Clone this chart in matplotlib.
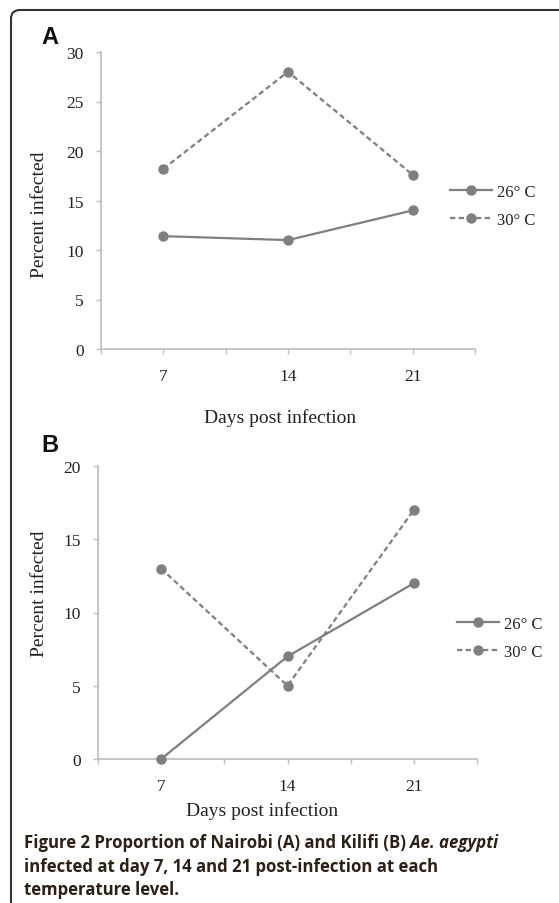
import numpy as np
import matplotlib
matplotlib.use("Agg")
import matplotlib.pyplot as plt
from matplotlib.patches import FancyBboxPatch
from matplotlib.lines import Line2D

# ---------------- data ----------------
days = ["7", "14", "21"]
series_labels = ["26° C", "30° C"]
nairobi_26 = [11.4, 11.0, 14.0]
nairobi_30 = [18.2, 28.0, 17.6]
kilifi_26 = [0.0, 7.0, 12.0]
kilifi_30 = [13.0, 5.0, 17.0]
yticks_a = [0, 5, 10, 15, 20, 25, 30]
yticks_b = [0, 5, 10, 15, 20]
xlabel = "Days post infection"
ylabel = "Percent infected"
caption_bold = "Figure 2 Proportion of Nairobi (A) and Kilifi (B) "
caption_ital = "Ae. aegypti"
caption_l2 = "infected at day 7, 14 and 21 post-infection at each"
caption_l3 = "temperature level."

W, H = 559, 904
fig = plt.figure(figsize=(W / 100, H / 100), dpi=100)

def fx(px):
    return px / W

def fy(py):
    return 1 - py / H

LINE_C = "#7f7f7f"
SPINE_C = "#c0c0c0"
TXT_C = "#222222"
SERIF = ["Liberation Serif", "DejaVu Serif"]
DASH = (2.4, 1.5)

# border (rounded rectangle, extends off right/bottom)
border = FancyBboxPatch((0.11, -1.0), 8.0, 9.04 - 0.11 + 1.0,
                        boxstyle="round,pad=0,rounding_size=0.09",
                        transform=fig.dpi_scale_trans, fill=False,
                        edgecolor="#333333", linewidth=1.5)
fig.patches.append(border)


def make_panel(rect, s26, s30, ymax, yticks):
    ax = fig.add_axes(rect)
    ax.plot(days, s26, color=LINE_C, lw=1.6, marker="o", ms=6.5,
            mfc=LINE_C, mec=LINE_C, solid_capstyle="butt", clip_on=False, zorder=3)
    ax.plot(days, s30, color=LINE_C, lw=1.6, marker="o", ms=6.5,
            mfc=LINE_C, mec=LINE_C, dashes=DASH, clip_on=False, zorder=3)
    ax.set_xlim(-0.5, 2.5)
    ax.set_ylim(0, ymax)
    ax.set_yticks(yticks)
    ax.set_xticks([-0.5, 0.5, 1.5, 2.5], minor=True)
    for s in ["top", "right"]:
        ax.spines[s].set_visible(False)
    for s in ["left", "bottom"]:
        ax.spines[s].set_color(SPINE_C)
        ax.spines[s].set_linewidth(1.3)
    ax.tick_params(axis="both", which="both", color=SPINE_C, length=3.5, width=1.0,
                   direction="out")
    ax.tick_params(axis="y", labelsize=12.5, labelcolor=TXT_C, pad=9)
    ax.tick_params(axis="x", labelsize=12.5, labelcolor=TXT_C, pad=10)
    for lab in ax.get_xticklabels() + ax.get_yticklabels():
        lab.set_fontfamily(SERIF)
    return ax


axA = make_panel([fx(101), fy(350), fx(475) - fx(101), fy(53) - fy(350)],
                 nairobi_26, nairobi_30, 30, yticks_a)
axB = make_panel([fx(98), fy(760), fx(477) - fx(98), fy(467) - fy(760)],
                 kilifi_26, kilifi_30, 20, yticks_b)

# axis titles
fig.text(fx(280), fy(418), xlabel, family=SERIF, fontsize=14, color=TXT_C,
         ha="center", va="center")
fig.text(fx(262), fy(811), xlabel, family=SERIF, fontsize=14, color=TXT_C,
         ha="center", va="center")
fig.text(fx(39), fy(215), ylabel, family=SERIF, fontsize=14, color=TXT_C,
         ha="center", va="center", rotation=90)
fig.text(fx(39), fy(594), ylabel, family=SERIF, fontsize=14, color=TXT_C,
         ha="center", va="center", rotation=90)

# panel letters
fig.text(fx(50), fy(37), "A", family=["Liberation Sans", "DejaVu Sans"],
         fontsize=17, fontweight="bold", color="#111111", ha="center", va="center")
fig.text(fx(50), fy(446), "B", family=["Liberation Sans", "DejaVu Sans"],
         fontsize=17, fontweight="bold", color="#111111", ha="center", va="center")

# legends
def add_legend(ax, x0, yc):
    handles = [Line2D([], [], color=LINE_C, lw=1.6, marker="o", ms=6.5),
               Line2D([], [], color=LINE_C, lw=1.6, marker="o", ms=6.5, dashes=DASH)]
    leg = ax.legend(handles, series_labels, loc="center left",
                    bbox_to_anchor=(fx(x0), fy(yc)), bbox_transform=fig.transFigure,
                    frameon=False, borderpad=0, borderaxespad=0,
                    handlelength=2.5, handletextpad=0.3, labelspacing=0.75,
                    prop={"family": SERIF, "size": 12}, labelcolor=TXT_C)
    return leg

add_legend(axA, 450, 207)
add_legend(axB, 457, 639)

# caption
CAP_FONT = ["Open Sans", "DejaVu Sans"]
CAP_C = "#2b2016"
cap_size = 12.1
t1 = fig.text(fx(24), fy(843), caption_bold, family=CAP_FONT, fontsize=cap_size,
              fontweight="bold", color=CAP_C, ha="left", va="center")
fig.canvas.draw()
r = fig.canvas.get_renderer()
bb = t1.get_window_extent(r)
fig.text(bb.x1 / W, fy(843), caption_ital, family=CAP_FONT, fontsize=cap_size,
         fontweight="bold", fontstyle="italic", color=CAP_C, ha="left", va="center")
fig.text(fx(24), fy(867), caption_l2, family=CAP_FONT, fontsize=cap_size,
         fontweight="bold", color=CAP_C, ha="left", va="center")
fig.text(fx(24), fy(890), caption_l3, family=CAP_FONT, fontsize=cap_size,
         fontweight="bold", color=CAP_C, ha="left", va="center")

fig.savefig("out.png", dpi=100)
